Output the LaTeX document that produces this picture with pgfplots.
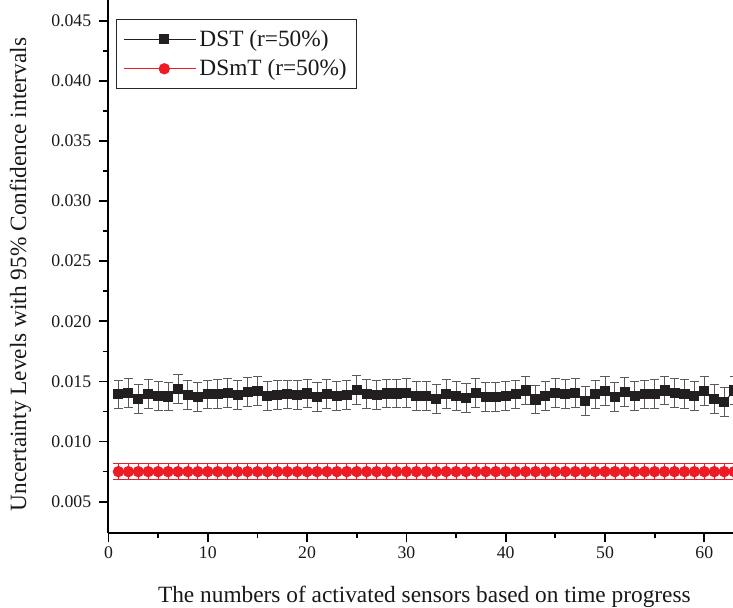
\documentclass[border=0pt]{standalone}
\usepackage{pgfplots}
\usepackage{pgfplotstable}
\pgfplotsset{compat=1.18}
\usepackage{fontspec}
\setmainfont{Liberation Serif}
\definecolor{dstblack}{HTML}{231F20}
\definecolor{errgray}{HTML}{5A5A5A}
\definecolor{dsmtred}{HTML}{ED1C24}

\pgfplotstableread{
x y e
1 0.01392 0.0012
2 0.01406 0.0012
3 0.01356 0.0012
4 0.01397 0.0012
5 0.01378 0.0012
6 0.01375 0.0012
7 0.01439 0.0012
8 0.01389 0.0012
9 0.01370 0.0012
10 0.01392 0.0012
11 0.01397 0.0012
12 0.01403 0.0012
13 0.01384 0.0012
14 0.01411 0.0012
15 0.01420 0.0012
16 0.01378 0.0012
17 0.01386 0.0012
18 0.01392 0.0012
19 0.01386 0.0012
20 0.01400 0.0012
21 0.01373 0.0012
22 0.01395 0.0012
23 0.01378 0.0012
24 0.01389 0.0012
25 0.01431 0.0012
26 0.01395 0.0012
27 0.01386 0.0012
28 0.01400 0.0012
29 0.01400 0.0012
30 0.01406 0.0012
31 0.01378 0.0012
32 0.01378 0.0012
33 0.01356 0.0012
34 0.01397 0.0012
35 0.01378 0.0012
36 0.01364 0.0012
37 0.01406 0.0012
38 0.01370 0.0012
39 0.01370 0.0012
40 0.01378 0.0012
41 0.01392 0.0012
42 0.01425 0.0012
43 0.01350 0.0012
44 0.01378 0.0012
45 0.01406 0.0012
46 0.01397 0.0012
47 0.01406 0.0012
48 0.01336 0.0012
49 0.01392 0.0012
50 0.01420 0.0012
51 0.01370 0.0012
52 0.01411 0.0012
53 0.01378 0.0012
54 0.01392 0.0012
55 0.01397 0.0012
56 0.01425 0.0012
57 0.01406 0.0012
58 0.01397 0.0012
59 0.01378 0.0012
60 0.01420 0.0012
61 0.01356 0.0012
62 0.01328 0.0012
63 0.01425 0.0012
}\dsttable

\pgfplotstableread{
x y e
1 0.0075 0.00067
2 0.0075 0.00067
3 0.0075 0.00067
4 0.0075 0.00067
5 0.0075 0.00067
6 0.0075 0.00067
7 0.0075 0.00067
8 0.0075 0.00067
9 0.0075 0.00067
10 0.0075 0.00067
11 0.0075 0.00067
12 0.0075 0.00067
13 0.0075 0.00067
14 0.0075 0.00067
15 0.0075 0.00067
16 0.0075 0.00067
17 0.0075 0.00067
18 0.0075 0.00067
19 0.0075 0.00067
20 0.0075 0.00067
21 0.0075 0.00067
22 0.0075 0.00067
23 0.0075 0.00067
24 0.0075 0.00067
25 0.0075 0.00067
26 0.0075 0.00067
27 0.0075 0.00067
28 0.0075 0.00067
29 0.0075 0.00067
30 0.0075 0.00067
31 0.0075 0.00067
32 0.0075 0.00067
33 0.0075 0.00067
34 0.0075 0.00067
35 0.0075 0.00067
36 0.0075 0.00067
37 0.0075 0.00067
38 0.0075 0.00067
39 0.0075 0.00067
40 0.0075 0.00067
41 0.0075 0.00067
42 0.0075 0.00067
43 0.0075 0.00067
44 0.0075 0.00067
45 0.0075 0.00067
46 0.0075 0.00067
47 0.0075 0.00067
48 0.0075 0.00067
49 0.0075 0.00067
50 0.0075 0.00067
51 0.0075 0.00067
52 0.0075 0.00067
53 0.0075 0.00067
54 0.0075 0.00067
55 0.0075 0.00067
56 0.0075 0.00067
57 0.0075 0.00067
58 0.0075 0.00067
59 0.0075 0.00067
60 0.0075 0.00067
61 0.0075 0.00067
62 0.0075 0.00067
63 0.0075 0.00067
}\dsmttable

\begin{document}
\begin{tikzpicture}
\useasboundingbox (-81.375pt,-55.275pt) rectangle (468.375pt,400pt);
\clip (-81.375pt,-55.275pt) rectangle (468.375pt,400pt);
\begin{axis}[
  at={(0pt,0pt)}, anchor=south west,
  scale only axis, width=484.09pt, height=400pt,
  xmin=0, xmax=65, ymin=0.00237, ymax=0.04672,
  axis x line*=bottom, axis y line*=left,
  axis line style={line width=1.5pt, black},
  tick align=outside,
  major tick length=6.75pt, minor tick length=3.75pt,
  every tick/.style={line width=1.3pt, black},
  xtick={0,10,20,30,40,50,60},
  minor x tick num=1,
  ytick={0.005,0.010,0.015,0.020,0.025,0.030,0.035,0.040,0.045},
  minor y tick num=1,
  scaled y ticks=false,
  /pgf/number format/assume math mode=true,
  y tick label style={/pgf/number format/fixed, /pgf/number format/fixed zerofill, /pgf/number format/precision=3, inner sep=6pt},
  ticklabel style={font=\fontsize{13.3}{13.3}\selectfont, color=black!90},
  x tick label style={inner sep=3pt},
  xlabel={The numbers of activated sensors based on time progress},
  ylabel={Uncertainty Levels with 95\% Confidence intervals},
  every axis x label/.style={at={(axis description cs:0.4894,-0.1288)}, anchor=base, font=\fontsize{17.5}{17.5}\selectfont, color=black!90},
  every axis y label/.style={at={(axis description cs:-0.1278,0.485)}, rotate=90, anchor=base, font=\fontsize{17.5}{17.5}\selectfont, color=black!90},
  legend style={at={(axis description cs:0.0116,0.9644)}, anchor=north west,
    draw=black!85, line width=0.8pt, fill=white,
    font=\fontsize{17.5}{17.5}\selectfont, text=black!90,
    inner xsep=5pt, inner ysep=5.5pt, row sep=3.5pt,
    nodes={inner sep=2.5pt}},
  legend cell align=left,
  legend image code/.code={
    \path (0pt,0pt) -- (54pt,0pt);
    \draw[#1, mark=none] (7pt,0pt) -- (54pt,0pt);
    \draw[#1, only marks] plot coordinates {(30.5pt,0pt)};
  },
]
\addplot[dstblack, line width=0.7pt, mark=square*, mark size=3.4pt,
  mark options={solid, fill=dstblack, draw=dstblack},
  error bars/.cd, y dir=both, y explicit,
  error bar style={errgray, line width=0.7pt},
  error mark options={rotate=90, mark size=3.4pt, errgray, line width=0.7pt}]
  table[x=x, y=y, y error=e] {\dsttable};
\addlegendentry{DST (r=50\%)}
\addplot[dsmtred, line width=0.7pt, mark=*, mark size=3.9pt,
  mark options={solid, fill=dsmtred, draw=dsmtred},
  error bars/.cd, y dir=both, y explicit,
  error bar style={dsmtred, line width=0.6pt},
  error mark options={rotate=90, mark size=3.8pt, dsmtred, line width=0.6pt}]
  table[x=x, y=y, y error=e] {\dsmttable};
\addlegendentry{DSmT (r=50\%)}
\end{axis}
\end{tikzpicture}
\end{document}
